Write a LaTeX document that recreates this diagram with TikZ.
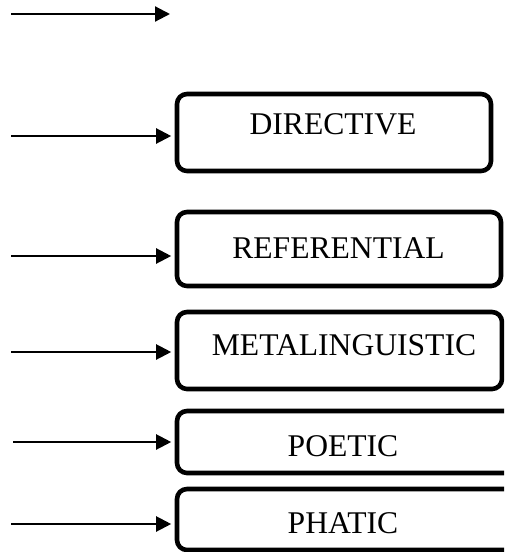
\documentclass[tikz,border=0pt]{standalone}
\usepackage{fontspec}
\setmainfont{Liberation Serif}
\usetikzlibrary{arrows.meta}
\begin{document}
\begin{tikzpicture}[x=1pt,y=-1pt,
  fnbox/.style={draw=black,line width=4.6pt,rounded corners=10pt,inner sep=0pt},
  lbl/.style={anchor=base,inner sep=0pt,font=\fontsize{31.6}{38}\selectfont},
  arr/.style={line width=2.2pt,-{Triangle[length=15pt,width=15pt]},shorten >=3.5pt}]
\clip (0,0) rectangle (504,552);
% boxes
\node[fnbox,minimum width=314pt,minimum height=77pt] (dir) at (334,132.5) {};
\node[fnbox,minimum width=324pt,minimum height=74pt] (ref) at (339,249) {};
\node[fnbox,minimum width=325pt,minimum height=77pt] (met) at (339.5,350.5) {};
\node[fnbox,minimum width=338pt,minimum height=62pt] (poe) at (346,442) {};
\node[fnbox,minimum width=338pt,minimum height=61pt] (pha) at (346,519.5) {};
% labels
\node[lbl] (dirt) at (333,134) {DIRECTIVE};
\node[lbl] (reft) at (338.5,258.3) {REFERENTIAL};
\node[lbl] (mett) at (344,355) {METALINGUISTIC};
\node[lbl] (poet) at (343,456.7) {POETIC};
\node[lbl] (phat) at (343,533.3) {PHATIC};
% arrow sources
\coordinate (s0) at (11,14);
\coordinate (e0) at (170,14);
\coordinate (s1) at (11,136);
\coordinate (s2) at (11,256);
\coordinate (s3) at (11,352);
\coordinate (s4) at (13,442);
\coordinate (s5) at (11,524);
% arrows
\draw[line width=2.2pt,-{Triangle[length=15pt,width=15pt]}] (s0) -- (e0);
\draw[arr] (s1) -- (s1 -| dir.west);
\draw[arr] (s2) -- (s2 -| ref.west);
\draw[arr] (s3) -- (s3 -| met.west);
\draw[arr] (s4) -- (s4 -| poe.west);
\draw[arr] (s5) -- (s5 -| pha.west);
\end{tikzpicture}
\end{document}
